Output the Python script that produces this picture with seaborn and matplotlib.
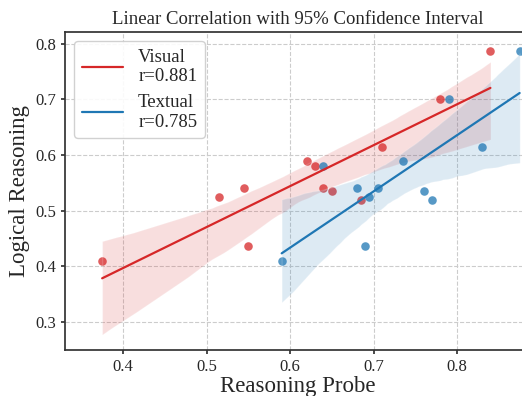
import numpy as np
import pandas as pd
import matplotlib
matplotlib.use("Agg")
import matplotlib.pyplot as plt
import seaborn as sns
from matplotlib.lines import Line2D
from matplotlib.collections import PolyCollection

visual_x = [0.375, 0.515, 0.545, 0.55, 0.62, 0.63, 0.64, 0.65, 0.685, 0.71, 0.78, 0.84]
visual_y = [0.41, 0.525, 0.54, 0.4375, 0.59, 0.58, 0.54, 0.535, 0.52, 0.615, 0.70, 0.7875]
textual_x = [0.59, 0.64, 0.68, 0.69, 0.695, 0.705, 0.735, 0.76, 0.77, 0.79, 0.83, 0.875]
textual_y = [0.41, 0.58, 0.54, 0.4375, 0.525, 0.54, 0.59, 0.535, 0.52, 0.70, 0.615, 0.7875]
series_labels = ["Visual\nr=0.881", "Textual\nr=0.785"]
title = "Linear Correlation with 95% Confidence Interval"
xlabel = "Reasoning Probe"
ylabel = "Logical Reasoning"

sns.set_theme(style="ticks")
plt.rcParams['font.family'] = ['Liberation Serif', 'DejaVu Serif']

fig = plt.figure(figsize=(5.22, 3.96), dpi=100)
ax = fig.add_axes([65/522, 46/396, 466/522, 318/396])

red = "#d62728"
blue = "#1f77b4"
dv = pd.DataFrame({"x": visual_x, "y": visual_y})
dt = pd.DataFrame({"x": textual_x, "y": textual_y})
sns.regplot(data=dv, x="x", y="y", ax=ax, color=red, ci=95, seed=0,
            scatter_kws=dict(s=38, alpha=0.75, linewidths=0),
            line_kws=dict(lw=1.6))
sns.regplot(data=dt, x="x", y="y", ax=ax, color=blue, ci=95, seed=0,
            scatter_kws=dict(s=38, alpha=0.75, linewidths=0),
            line_kws=dict(lw=1.6))
for coll in ax.collections:
    if isinstance(coll, PolyCollection):
        coll.set_alpha(0.15)

handles = [Line2D([], [], color=red, lw=1.6), Line2D([], [], color=blue, lw=1.6)]
ax.legend(handles, series_labels, loc="upper left", fontsize=13.5, frameon=True,
          fancybox=True, edgecolor="#cccccc", framealpha=0.9, borderpad=0.4,
          labelspacing=0.45, handlelength=2.2)

ax.set_xlim(0.3305, 0.8886)
ax.set_ylim(0.25, 0.821)
ax.set_xticks([0.4, 0.5, 0.6, 0.7, 0.8])
ax.set_yticks([0.3, 0.4, 0.5, 0.6, 0.7, 0.8])
ax.grid(True, ls="--", color="#cccccc", lw=0.8)
ax.tick_params(labelsize=12, length=3, color="#333333")
for s in ax.spines.values():
    s.set_color("#333333")
ax.set_title(title, fontsize=13.5)
ax.set_xlabel(xlabel, fontsize=16.5, labelpad=1)
ax.set_ylabel(ylabel, fontsize=16.5)
fig.savefig("out.png", dpi=100)
